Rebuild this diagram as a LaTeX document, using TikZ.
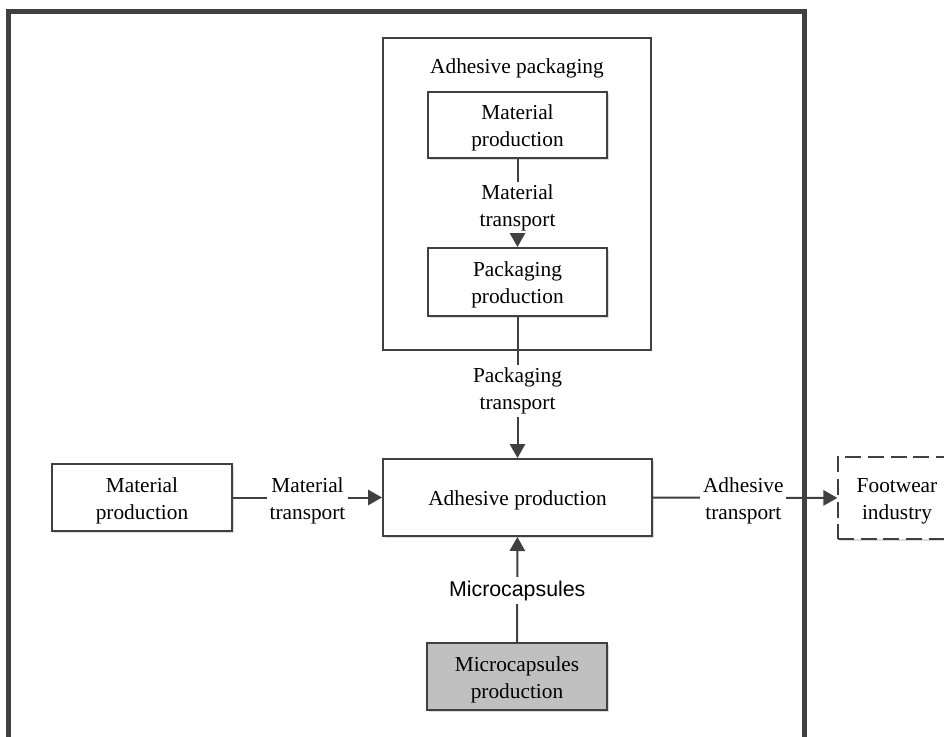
\documentclass[tikz,border=0pt]{standalone}
\usepackage{fontspec}
\setmainfont{Liberation Serif}
\newfontfamily\arialf{Liberation Sans}
\usetikzlibrary{arrows.meta,shadows}
\definecolor{ln}{HTML}{404040}
\definecolor{capfill}{HTML}{C0C0C0}
\begin{document}
\begin{tikzpicture}[x=0.75pt,y=-0.75pt,
  every node/.style={font=\fontsize{16}{20.25}\selectfont, align=center, text=black},
  box/.style={draw=ln, line width=1.5pt, fill=white, inner sep=0pt,
    drop shadow={shadow xshift=1.6pt, shadow yshift=-1.6pt, fill=black!14, opacity=1}},
  boxtext/.style={label={[yshift=-2.4pt, inner sep=0pt]center:{#1}}},
  frame/.style={draw=ln, line width=3.75pt},
  pkgframe/.style={draw=ln, line width=0.8pt, inner sep=0pt},
  arr/.style={draw=ln, line width=1.5pt, -{Triangle[length=10.5pt,width=11.5pt]}},
  lbl/.style={fill=white, inner sep=2pt, yshift=-2.25pt},
  sanslbl/.style={fill=white, inner sep=3pt, font=\arialf\fontsize{16}{20}\selectfont}
]
\useasboundingbox (0,0) rectangle (944,737);
\fill[white] (0,0) rectangle (944,737);

% outer system boundary (cut off at the bottom)
\draw[frame] (8.5,12) rectangle (804,800);

% adhesive packaging group
\node[pkgframe, minimum width=201pt, minimum height=234pt] (pkg) at (517,194) {};
\node (pkgtitle) at (517,68.5) {Adhesive packaging};

\node[box, minimum width=134.5pt, minimum height=49.5pt, boxtext={Material\\production}] (mp1) at (517.5,125) {};
\node[box, minimum width=134.5pt, minimum height=51pt, boxtext={Packaging\\production}] (pp) at (517.5,282) {};

\node[box, minimum width=201.75pt, minimum height=57.75pt, boxtext={Adhesive production}] (ap) at (517.5,497.5) {};
\node[box, minimum width=135pt, minimum height=50.25pt, boxtext={Material\\production}] (mp2) at (142,497.5) {};
\node[box, fill=capfill, minimum width=135pt, minimum height=50.25pt, boxtext={Microcapsules\\production}] (mc) at (517,676.5) {};
\node[box, line width=1pt, dash pattern=on 12pt off 5pt, minimum width=88.5pt, minimum height=61.5pt, boxtext={Footwear\\industry}] (fw) at (897,498) {};

% connectors
\draw[arr] (mp1) -- node[lbl, yshift=-1.2pt] {Material\\transport} (pp);
\draw[arr] (pp) -- node[lbl, pos=0.505] {Packaging\\transport} (ap);
\draw[arr] (mp2) -- node[lbl] {Material\\transport} (ap);
\draw[arr] (ap) -- node[lbl, pos=0.49] {Adhesive\\transport} (fw);
\draw[arr] (mc) -- node[sanslbl, pos=0.49] {Microcapsules} (ap);
\end{tikzpicture}
\end{document}
